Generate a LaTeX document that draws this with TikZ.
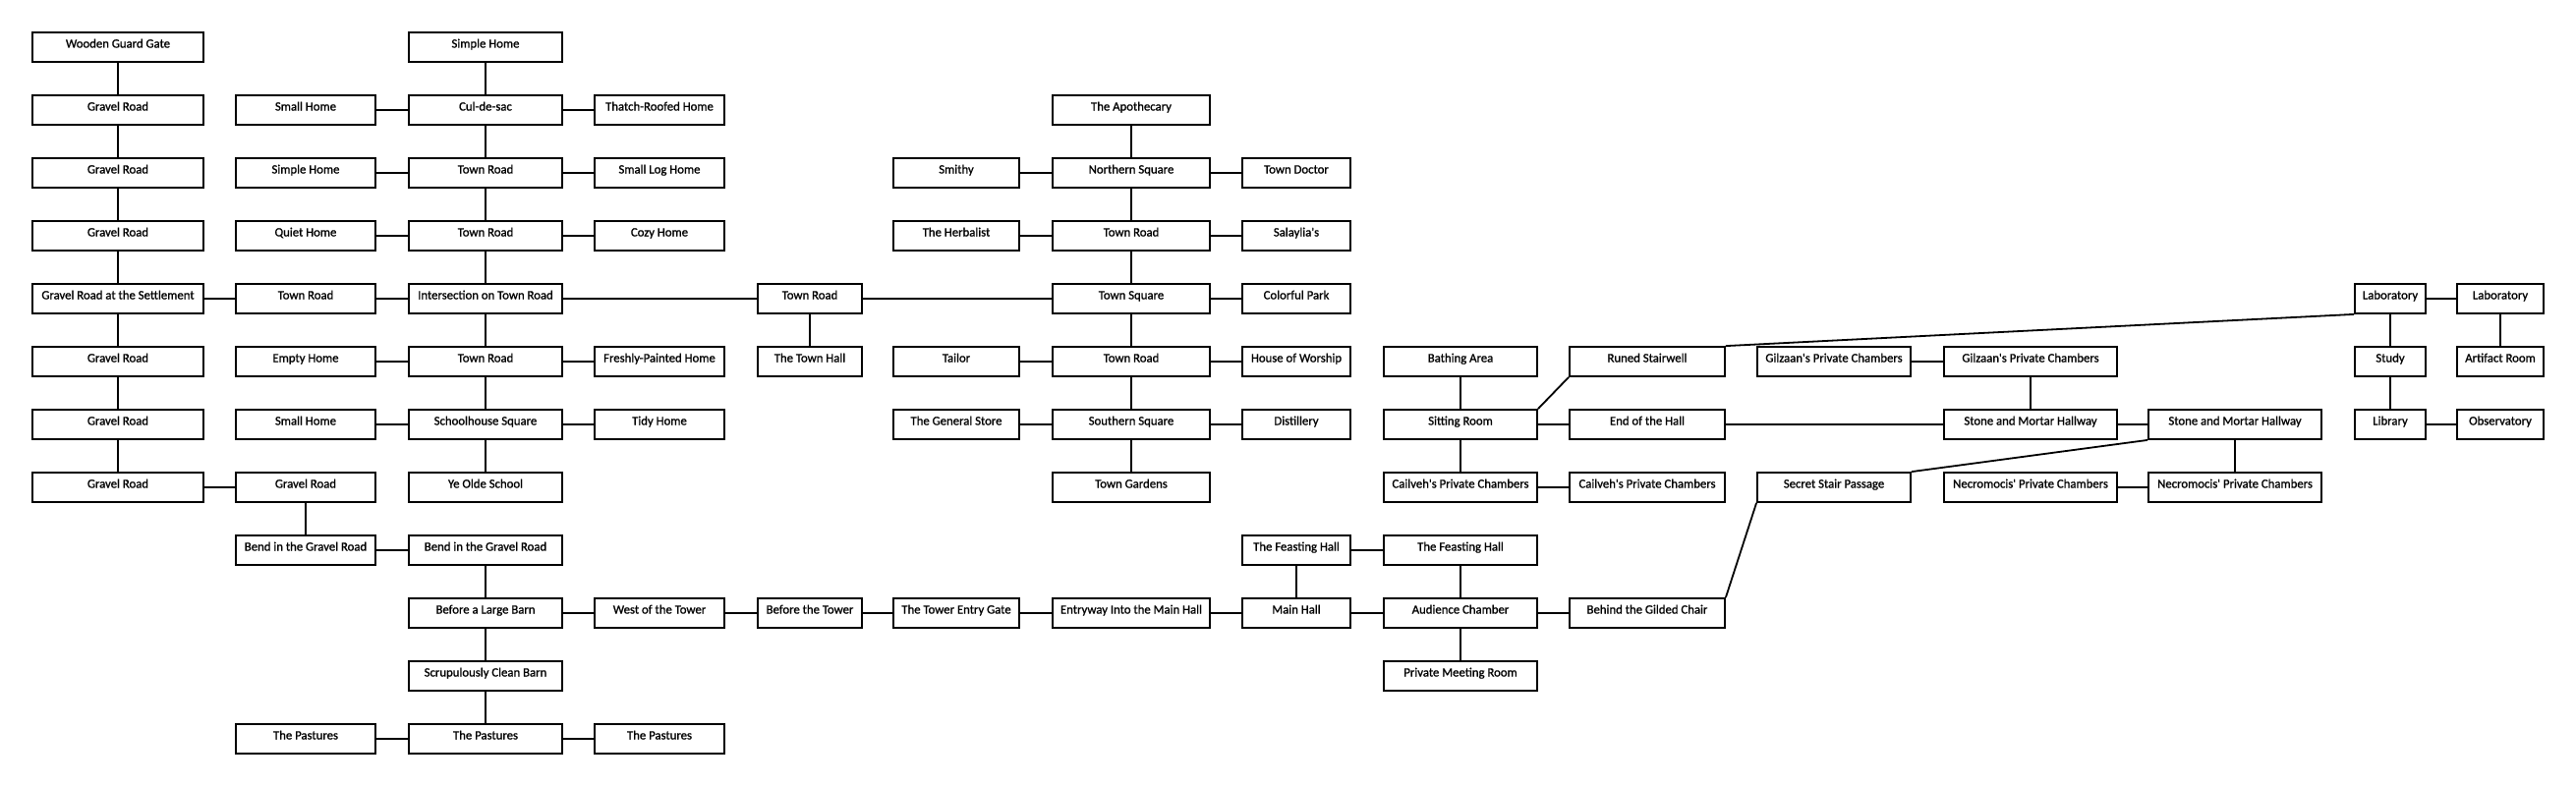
\documentclass[tikz,border=0pt]{standalone}
\usepackage{fontspec}
\setmainfont{Carlito}
\newfontfamily\roomfont{Carlito}[FakeBold=1]
\begin{document}
\begin{tikzpicture}[x=1bp,y=-1bp,
  room/.style={draw=black, line width=1.8bp, fill=white, inner sep=0pt,
    minimum height=30bp, text height=10bp, text depth=9bp,
    font=\roomfont\fontsize{12.75bp}{13bp}\selectfont},
  link/.style={draw=black, line width=1.8bp},
  wa/.style={room, minimum width=174bp},
  wb/.style={room, minimum width=142bp},
  wc/.style={room, minimum width=156bp},
  wd/.style={room, minimum width=132bp},
  we/.style={room, minimum width=106bp},
  wf/.style={room, minimum width=128bp},
  wg/.style={room, minimum width=160bp},
  wh/.style={room, minimum width=110bp},
  wi/.style={room, minimum width=156bp},
  wj/.style={room, minimum width=158bp},
  wk/.style={room, minimum width=156bp},
  wl/.style={room, minimum width=176bp},
  wm/.style={room, minimum width=176bp},
  wn/.style={room, minimum width=72bp},
  wo/.style={room, minimum width=88bp}]
\useasboundingbox (0,0) rectangle (2621,800);
\fill[white] (0,0) rectangle (2621,800);
% rows: 48 + 64(k-1)
% column 1
\node[wa] (a1) at (120,48) {Wooden Guard Gate};
\node[wa] (a2) at (120,112) {Gravel Road};
\node[wa] (a3) at (120,176) {Gravel Road};
\node[wa] (a4) at (120,240) {Gravel Road};
\node[wa] (a5) at (120,304) {Gravel Road at the Settlement};
\node[wa] (a6) at (120,368) {Gravel Road};
\node[wa] (a7) at (120,432) {Gravel Road};
\node[wa] (a8) at (120,496) {Gravel Road};
% column 2
\node[wb] (b2) at (311,112) {Small Home};
\node[wb] (b3) at (311,176) {Simple Home};
\node[wb] (b4) at (311,240) {Quiet Home};
\node[wb] (b5) at (311,304) {Town Road};
\node[wb] (b6) at (311,368) {Empty Home};
\node[wb] (b7) at (311,432) {Small Home};
\node[wb] (b8) at (311,496) {Gravel Road};
\node[wb] (b9) at (311,560) {Bend in the Gravel Road};
\node[wb] (b12) at (311,752) {The Pastures};
% column 3
\node[wc] (c1) at (494,48) {Simple Home};
\node[wc] (c2) at (494,112) {Cul-de-sac};
\node[wc] (c3) at (494,176) {Town Road};
\node[wc] (c4) at (494,240) {Town Road};
\node[wc] (c5) at (494,304) {Intersection on Town Road};
\node[wc] (c6) at (494,368) {Town Road};
\node[wc] (c7) at (494,432) {Schoolhouse Square};
\node[wc] (c8) at (494,496) {Ye Olde School};
\node[wc] (c9) at (494,560) {Bend in the Gravel Road};
\node[wc] (c10) at (494,624) {Before a Large Barn};
\node[wc] (c11) at (494,688) {Scrupulously Clean Barn};
\node[wc] (c12) at (494,752) {The Pastures};
% column 4
\node[wd] (d2) at (671,112) {Thatch-Roofed Home};
\node[wd] (d3) at (671,176) {Small Log Home};
\node[wd] (d4) at (671,240) {Cozy Home};
\node[wd] (d6) at (671,368) {Freshly-Painted Home};
\node[wd] (d7) at (671,432) {Tidy Home};
\node[wd] (d10) at (671,624) {West of the Tower};
\node[wd] (d12) at (671,752) {The Pastures};
% column 5
\node[we] (e5) at (824,304) {Town Road};
\node[we] (e6) at (824,368) {The Town Hall};
\node[we] (e10) at (824,624) {Before the Tower};
% column 6
\node[wf] (f3) at (973,176) {Smithy};
\node[wf] (f4) at (973,240) {The Herbalist};
\node[wf] (f6) at (973,368) {Tailor};
\node[wf] (f7) at (973,432) {The General Store};
\node[wf] (f10) at (973,624) {The Tower Entry Gate};
% column 7
\node[wg] (g2) at (1151,112) {The Apothecary};
\node[wg] (g3) at (1151,176) {Northern Square};
\node[wg] (g4) at (1151,240) {Town Road};
\node[wg] (g5) at (1151,304) {Town Square};
\node[wg] (g6) at (1151,368) {Town Road};
\node[wg] (g7) at (1151,432) {Southern Square};
\node[wg] (g8) at (1151,496) {Town Gardens};
\node[wg] (g10) at (1151,624) {Entryway Into the Main Hall};
% column 8
\node[wh] (h3) at (1319,176) {Town Doctor};
\node[wh] (h4) at (1319,240) {Salaylia's};
\node[wh] (h5) at (1319,304) {Colorful Park};
\node[wh] (h6) at (1319,368) {House of Worship};
\node[wh] (h7) at (1319,432) {Distillery};
\node[wh] (h9) at (1319,560) {The Feasting Hall};
\node[wh] (h10) at (1319,624) {Main Hall};
% column 9
\node[wi] (i6) at (1486,368) {Bathing Area};
\node[wi] (i7) at (1486,432) {Sitting Room};
\node[wi] (i8) at (1486,496) {Cailveh's Private Chambers};
\node[wi] (i9) at (1486,560) {The Feasting Hall};
\node[wi] (i10) at (1486,624) {Audience Chamber};
\node[wi] (i11) at (1486,688) {Private Meeting Room};
% column 10
\node[wj] (j6) at (1676,368) {Runed Stairwell};
\node[wj] (j7) at (1676,432) {End of the Hall};
\node[wj] (j8) at (1676,496) {Cailveh's Private Chambers};
\node[wj] (j10) at (1676,624) {Behind the Gilded Chair};
% column 11
\node[wk] (k6) at (1866,368) {Gilzaan's Private Chambers};
\node[wk] (k8) at (1866,496) {Secret Stair Passage};
% column 12
\node[wl] (l6) at (2066,368) {Gilzaan's Private Chambers};
\node[wl] (l7) at (2066,432) {Stone and Mortar Hallway};
\node[wl] (l8) at (2066,496) {Necromocis' Private Chambers};
% column 13
\node[wm] (m7) at (2274,432) {Stone and Mortar Hallway};
\node[wm] (m8) at (2274,496) {Necromocis' Private Chambers};
% column 14
\node[wn] (n5) at (2432,304) {Laboratory};
\node[wn] (n6) at (2432,368) {Study};
\node[wn] (n7) at (2432,432) {Library};
% column 15
\node[wo] (o5) at (2544,304) {Laboratory};
\node[wo] (o6) at (2544,368) {Artifact Room};
\node[wo] (o7) at (2544,432) {Observatory};
% vertical links
\foreach \p/\q in {a1/a2,a2/a3,a3/a4,a4/a5,a5/a6,a6/a7,a7/a8,
  b8/b9,c1/c2,c2/c3,c3/c4,c4/c5,c5/c6,c6/c7,c7/c8,c9/c10,c10/c11,c11/c12,
  e5/e6,g2/g3,g3/g4,g4/g5,g5/g6,g6/g7,g7/g8,h9/h10,
  i6/i7,i7/i8,i9/i10,i10/i11,l6/l7,m7/m8,n5/n6,n6/n7,o5/o6}
  \draw[link] (\p.south) -- (\q.north);
% horizontal links
\foreach \p/\q in {a5/b5,b5/c5,c5/e5,e5/g5,a8/b8,b9/c9,
  b2/c2,c2/d2,b3/c3,c3/d3,b4/c4,c4/d4,b6/c6,c6/d6,b7/c7,c7/d7,
  c10/d10,d10/e10,e10/f10,f10/g10,g10/h10,h10/i10,i10/j10,
  b12/c12,c12/d12,f3/g3,g3/h3,f4/g4,g4/h4,g5/h5,f6/g6,g6/h6,f7/g7,g7/h7,
  h9/i9,i7/j7,j7/l7,i8/j8,k6/l6,l7/m7,l8/m8,n5/o5,n7/o7}
  \draw[link] (\p.east) -- (\q.west);
% diagonal links
\draw[link] (i7.north east) -- (j6.south west);
\draw[link] (j6.north east) -- (n5.south west);
\draw[link] (k8.north east) -- (m7.south west);
\draw[link] (k8.south west) -- (j10.north east);
\end{tikzpicture}
\end{document}
